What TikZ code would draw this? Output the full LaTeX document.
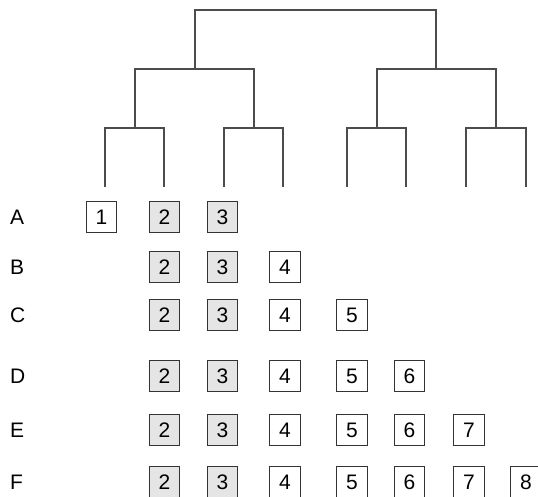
\documentclass[tikz,border=0pt]{standalone}
\usepackage{fontspec}
\setmainfont{Liberation Sans}
\usetikzlibrary{positioning}

\begin{document}
\begin{tikzpicture}[x=1pt, y=-1pt,
    branch/.style={draw=black!70, line width=1.5pt},
    cell/.style={draw=black!80, line width=1.2pt, minimum size=30.5pt, inner sep=0pt, font=\fontsize{21}{25}\selectfont},
    shared/.style={cell, fill=black!10},
    rowlabel/.style={anchor=west, inner sep=0pt, font=\fontsize{21}{25}\selectfont}]
    \useasboundingbox (0,0) rectangle (538,497);

    % Leaves and joints of the tree
    \foreach \i/\x in {1/105,2/164,3/224,4/283,5/347,6/406,7/466,8/526}
        \coordinate (leaf\i) at (\x,187);
    \coordinate (j12) at (135,128);
    \coordinate (j34) at (254,128);
    \coordinate (j56) at (377,128);
    \coordinate (j78) at (496,128);
    \coordinate (k14) at (195,69);
    \coordinate (k58) at (436,69);
    \coordinate (root) at (315,10);

    % Branches
    \draw[branch] (leaf1) |- (j12) -| (leaf2);
    \draw[branch] (leaf3) |- (j34) -| (leaf4);
    \draw[branch] (leaf5) |- (j56) -| (leaf6);
    \draw[branch] (leaf7) |- (j78) -| (leaf8);
    \draw[branch] (j12) |- (k14) -| (j34);
    \draw[branch] (j56) |- (k58) -| (j78);
    \draw[branch] (k14) |- (root) -| (k58);

    % Rows of cells
    \foreach \r/\y/\cells in {A/217/{1,2,3}, B/267/{2,3,4}, C/315/{2,3,4,5},
                              D/376/{2,3,4,5,6}, E/430/{2,3,4,5,6,7}, F/482/{2,3,4,5,6,7,8}} {
        \node[rowlabel] (lab\r) at (10,\y) {\r};
        \foreach \n in \cells {
            \pgfmathsetmacro{\cx}{{0,101.5,164.5,222.5,285,352,409.5,469,526}[\n]}
            \ifnum\n=2 \def\look{shared}\else\ifnum\n=3 \def\look{shared}\else\def\look{cell}\fi\fi
            \node[\look] (\r-\n) at (\cx,\y) {\n};
        }
    }
\end{tikzpicture}
\end{document}
